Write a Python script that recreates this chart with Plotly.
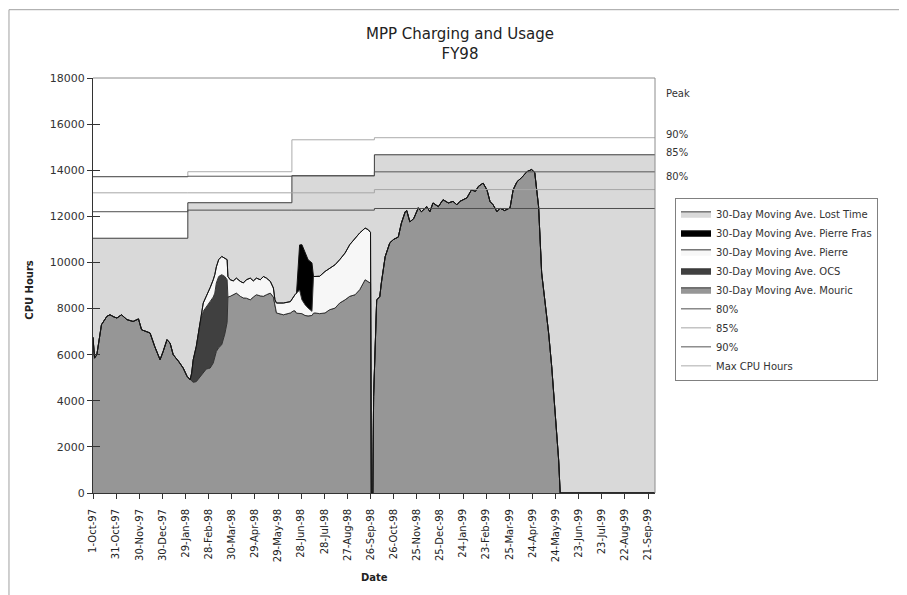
import pandas as pd
import plotly.graph_objects as go
from datetime import datetime

# ---------------- data ----------------
start_date = "1997-10-01"   # day 0

# 30-day moving averages, days counted from 1-Oct-97
mouric_day = [0, 2, 5, 11, 18, 22, 27, 31, 37, 44, 52, 59, 63, 70, 74, 80, 87, 91, 96, 100,
              104, 111, 117, 122, 126,
              128, 130, 134, 139, 143, 147, 150, 152, 156, 158, 160, 163, 167, 171, 174,
              175, 178, 182, 186, 191, 195, 199, 204, 208, 212, 217, 221, 225, 230, 234,
              236, 238, 247, 256, 260, 262,
              264, 268, 271, 275, 279, 284, 286,
              288, 294, 301, 307, 314, 320, 327, 333, 340, 346, 353, 357, 360,
              361, 363, 364, 368, 372, 374, 379, 385, 390, 396, 400, 405, 407, 411, 416,
              422, 426, 433, 437, 441, 448, 454, 461, 467, 472, 476, 485, 491, 496, 500,
              506, 511, 515, 519, 524, 528, 534, 541, 545, 550, 556, 563, 569, 573, 578,
              582, 586, 591, 595, 599, 604, 606, 729]
mouric = [6750, 5850, 6000, 7300, 7660, 7730, 7640, 7590, 7730, 7520, 7440, 7550, 7080, 7010,
          6940, 6360, 5780, 6140, 6650, 6500, 6000, 5710, 5420, 5060, 4910,
          4850, 4800, 4830, 5060, 5250, 5380, 5400, 5420, 5640, 5900, 6140, 6300, 6430, 6900, 7400,
          8500, 8530, 8600, 8670, 8530, 8460, 8450, 8380, 8500, 8600, 8550, 8530, 8600, 8670, 8500,
          8100, 7810, 7730, 7810, 7900, 7900,
          7800, 7800, 7780, 7700, 7680, 7700, 7800,
          7810, 7780, 7810, 7950, 8020, 8240, 8380, 8530, 8600, 8820, 9250, 9180, 9100,
          0, 0, 4180, 8380, 8510, 9100, 10250, 10850, 11000, 11100, 11700, 12200, 12250, 11760, 11900,
          12370, 12200, 12420, 12200, 12580, 12420, 12720, 12580, 12650, 12500, 12650, 12800, 13150, 13080, 13300,
          13440, 13150, 12640, 12500, 12200, 12350, 12250, 12370, 13150, 13500, 13680, 13940, 14030, 13900, 12420,
          9540, 8380, 6940, 5490, 3760, 1440, 0, 0]

ocs_day = [126, 128, 130, 134, 139, 143, 147, 150, 152, 156, 158, 160, 163, 167, 171, 174, 175]
ocs = [0, 350, 980, 1530, 2310, 2630, 2710, 2800, 2890, 2860, 2770, 2970, 3090, 3040, 2490, 1850, 0]

pierre_day = [139, 143, 147, 150, 152, 156, 158, 160, 163, 167, 171, 174,
              175, 178, 182, 186, 191, 195, 199, 204, 208, 212, 217, 221, 225, 230, 234,
              236, 238, 247, 256, 260, 262,
              264, 268, 271, 275, 279, 284, 286,
              288, 294, 301, 307, 314, 320, 327, 333, 340, 346, 353, 357, 360]
pierre = [150, 360, 450, 540, 600, 750, 800, 700, 730, 790, 800, 870,
          890, 720, 600, 650, 650, 650, 800, 940, 700, 720, 700, 860, 720, 510, 390,
          280, 430, 510, 490, 630, 700,
          870, 1000, 600, 470, 340, 180, 1590,
          1580, 1620, 1800, 1810, 1880, 1880, 2030, 2240, 2460, 2460, 2240, 2240, 2200]

pierre_fras_day = [264, 268, 271, 275, 279, 284, 286]
pierre_fras = [0, 1960, 2390, 2310, 2100, 2100, 0]

# step levels (start date of each level)
step_start = ["1997-10-01", "1998-02-01", "1998-06-16", "1998-10-01", "1999-09-30"]
cpu_available = [11050, 12590, 13760, 14670, 14670]   # top of the stacked areas
level_80 = [12200, 12270, 12270, 12340, 12340]
level_85 = [13020, 13020, 13020, 13160, 13160]
level_90 = [13720, 13740, 13760, 13930, 13930]
max_cpu_hours = [13720, 13935, 15320, 15410, 15410]

right_labels = ["Peak", "90%", "85%", "80%"]
right_label_y = [17320, 15540, 14760, 13720]

tick_labels = ["1-Oct-97", "31-Oct-97", "30-Nov-97", "30-Dec-97", "29-Jan-98", "28-Feb-98",
               "30-Mar-98", "29-Apr-98", "29-May-98", "28-Jun-98", "28-Jul-98", "27-Aug-98",
               "26-Sep-98", "26-Oct-98", "25-Nov-98", "25-Dec-98", "24-Jan-99", "23-Feb-99",
               "25-Mar-99", "24-Apr-99", "24-May-99", "23-Jun-99", "23-Jul-99", "22-Aug-99",
               "21-Sep-99"]
y_ticks = [0, 2000, 4000, 6000, 8000, 10000, 12000, 14000, 16000, 18000]

# ---------------- helpers ----------------
base = pd.Timestamp(start_date)


def to_dates(days):
    return [(base + pd.Timedelta(days=d)).strftime("%Y-%m-%d") for d in days]


tick_vals = [datetime.strptime(t, "%d-%b-%y").strftime("%Y-%m-%d") for t in tick_labels]

FONT = "DejaVu Sans"
EDGE = "#333333"

fig = go.Figure()

# capacity (lost time shows as light grey above usage)
fig.add_trace(go.Scatter(
    x=step_start, y=cpu_available, name="30-Day Moving Ave. Lost Time",
    mode="lines", line=dict(shape="hv", color="#3c3c3c", width=1),
    fill="tozeroy", fillcolor="#d9d9d9", legendrank=1))

fig.add_trace(go.Scatter(
    x=to_dates(mouric_day), y=mouric, name="30-Day Moving Ave. Mouric",
    mode="lines", stackgroup="use", line=dict(color=EDGE, width=1),
    fillcolor="#969696", legendrank=5))
fig.add_trace(go.Scatter(
    x=to_dates(ocs_day), y=ocs, name="30-Day Moving Ave. OCS",
    mode="lines", stackgroup="use", line=dict(color=EDGE, width=1),
    fillcolor="#404040", legendrank=4))
fig.add_trace(go.Scatter(
    x=to_dates(pierre_day), y=pierre, name="30-Day Moving Ave. Pierre",
    mode="lines", stackgroup="use", line=dict(color=EDGE, width=1),
    fillcolor="#f7f7f7", legendrank=3))
fig.add_trace(go.Scatter(
    x=to_dates(pierre_fras_day), y=pierre_fras, name="30-Day Moving Ave. Pierre Fras",
    mode="lines", stackgroup="use", line=dict(color="#111111", width=1),
    fillcolor="#000000", legendrank=2))

# threshold lines
fig.add_trace(go.Scatter(x=step_start, y=max_cpu_hours, name="Max CPU Hours", mode="lines",
                         line=dict(shape="hv", color="#ababab", width=1), legendrank=9))
fig.add_trace(go.Scatter(x=step_start, y=level_85, name="85%", mode="lines",
                         line=dict(shape="hv", color="#a6a6a6", width=1), legendrank=7))
fig.add_trace(go.Scatter(x=step_start, y=level_80, name="80%", mode="lines",
                         line=dict(shape="hv", color="#4d4d4d", width=1), legendrank=6))
fig.add_trace(go.Scatter(x=step_start, y=level_90, name="90%", mode="lines",
                         line=dict(shape="hv", color="#555555", width=1), legendrank=8))

# dummy trace for the inner half of the crossing y ticks
fig.add_trace(go.Scatter(x=[], y=[], yaxis="y2", showlegend=False, hoverinfo="skip"))

annotations = []
for lab, yv in zip(right_labels, right_label_y):
    annotations.append(dict(text=lab, x=1.016, xref="paper", y=yv, yref="y",
                            xanchor="left", yanchor="middle", showarrow=False,
                            font=dict(size=10, color="#333", family=FONT)))
annotations.append(dict(text="<b>Date</b>", x=0.5, xref="paper", y=-0.204, yref="paper",
                        xanchor="center", yanchor="middle", showarrow=False,
                        font=dict(size=10, color="#222", family=FONT)))
annotations.append(dict(text="<b>CPU Hours</b>", x=-0.112, xref="paper", y=0.49, yref="paper",
                        xanchor="center", yanchor="middle", showarrow=False, textangle=-90,
                        font=dict(size=10, color="#222", family=FONT)))

shapes = [
    # plot-area border (top and right)
    dict(type="line", xref="paper", yref="paper", x0=0, x1=1, y0=1, y1=1,
         line=dict(color="#8c8c8c", width=1)),
    dict(type="line", xref="paper", yref="paper", x0=1, x1=1, y0=0, y1=1,
         line=dict(color="#8c8c8c", width=1)),
    # chart-area frame
    dict(type="rect", xref="paper", yref="paper", x0=-0.1495, x1=1.5, y0=-0.4, y1=1.1646,
         line=dict(color="#a0a0a0", width=1), layer="below"),
]

# the page body adds an 8 px offset, so the figure is 8 px smaller and margins shifted
fig.update_layout(
    width=899, height=587,
    margin=dict(l=85, r=252, t=70, b=102, autoexpand=False),
    paper_bgcolor="white", plot_bgcolor="white",
    font=dict(family=FONT, size=10, color="#222"),
    title=dict(text="MPP Charging and Usage<br>FY98", x=452 / 899, xanchor="center",
               xref="container", y=1 - 31 / 587, yanchor="top",
               font=dict(size=15, color="#222", family=FONT)),
    showlegend=True,
    legend=dict(x=1.0356, y=0.71, xanchor="left", yanchor="top", traceorder="normal",
                bgcolor="white", bordercolor="#808080", borderwidth=1,
                font=dict(size=10, color="#333", family=FONT), itemwidth=30,
                tracegroupgap=0),
    xaxis=dict(type="date", range=["1997-10-01", "1999-09-30"], tickvals=tick_vals,
               ticktext=tick_labels, tickangle=-90, ticks="outside", ticklen=5,
               tickcolor="#333", showline=True, linecolor="#333", linewidth=1,
               showgrid=False, zeroline=False, ticklabelstandoff=6,
               tickfont=dict(size=10, color="#222", family=FONT)),
    yaxis=dict(range=[0, 18000], tickvals=y_ticks, tickformat="d", ticks="outside",
               ticklen=5, tickcolor="#333", showline=True, linecolor="#333", linewidth=1,
               showgrid=False, zeroline=False,
               tickfont=dict(size=11, color="#333", family=FONT)),
    yaxis2=dict(range=[0, 18000], overlaying="y", side="left", tickvals=y_ticks,
                ticks="inside", ticklen=7, tickcolor="#333", showticklabels=False,
                showgrid=False, zeroline=False, showline=False),
    annotations=annotations,
    shapes=shapes,
)

fig.write_html("out.html")
